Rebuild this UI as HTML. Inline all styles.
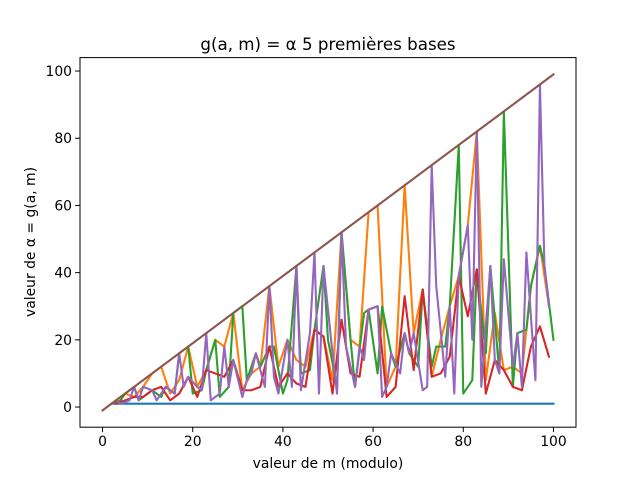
<!DOCTYPE html>
<html><head><meta charset="utf-8"><style>
body{margin:0;background:#fff}
svg{display:block;font-family:"DejaVu Sans","Liberation Sans",sans-serif}
</style></head><body>
<svg id="chart" width="640" height="480" viewBox="0 0 640 480" xmlns="http://www.w3.org/2000/svg">
<rect width="640" height="480" fill="#fff"/>
<text x="328" y="50" font-size="16.7" text-anchor="middle">g(a, m) = α 5 premières bases</text>
<text x="328" y="468" font-size="13.9" text-anchor="middle">valeur de m (modulo)</text>
<text transform="translate(35,242) rotate(-90)" font-size="13.9" text-anchor="middle">valeur de α = g(a, m)</text>
<g id="plot"></g>
</svg>
<script>
const xTicks=[0,20,40,60,80,100];
const yTicks=[0,20,40,60,80,100];
const base1M=[2,3,4,5,6,7,8,9,10,11,12,13,14,15,16,17,18,19,20,21,22,23,24,25,26,27,28,29,30,31,32,33,34,35,36,37,38,39,40,41,42,43,44,45,46,47,48,49,50,51,52,53,54,55,56,57,58,59,60,61,62,63,64,65,66,67,68,69,70,71,72,73,74,75,76,77,78,79,80,81,82,83,84,85,86,87,88,89,90,91,92,93,94,95,96,97,98,99,100];
const base1V=[1,1,1,1,1,1,1,1,1,1,1,1,1,1,1,1,1,1,1,1,1,1,1,1,1,1,1,1,1,1,1,1,1,1,1,1,1,1,1,1,1,1,1,1,1,1,1,1,1,1,1,1,1,1,1,1,1,1,1,1,1,1,1,1,1,1,1,1,1,1,1,1,1,1,1,1,1,1,1,1,1,1,1,1,1,1,1,1,1,1,1,1,1,1,1,1,1,1,1];
const base2M=[3,5,7,9,11,13,15,17,19,21,23,25,27,29,31,33,35,37,39,41,43,45,47,49,51,53,55,57,59,61,63,65,67,69,71,73,75,77,79,81,83,85,87,89,91,93,95,97,99];
const base2V=[2,4,3,6,10,12,4,8,18,6,11,20,18,28,5,10,12,36,12,20,14,12,23,21,8,52,20,18,58,60,6,12,66,22,35,9,20,30,39,54,82,8,28,11,12,10,36,48,30];
const base3M=[2,4,5,7,8,10,11,13,14,16,17,19,20,22,23,25,26,28,29,31,32,34,35,37,38,40,41,43,44,46,47,49,50,52,53,55,56,58,59,61,62,64,65,67,68,70,71,73,74,76,77,79,80,82,83,85,86,88,89,91,92,94,95,97,98,100];
const base3V=[1,2,4,6,2,4,5,3,6,4,16,18,4,5,11,20,3,6,28,30,8,16,12,18,18,4,8,42,10,11,23,42,20,6,52,20,6,28,29,10,30,16,12,22,16,12,35,12,18,18,30,78,4,8,41,16,42,10,88,6,22,23,36,48,42,20];
const base4M=[3,5,7,9,11,13,15,17,19,21,23,25,27,29,31,33,35,37,39,41,43,45,47,49,51,53,55,57,59,61,63,65,67,69,71,73,75,77,79,81,83,85,87,89,91,93,95,97,99];
const base4V=[1,2,3,3,5,6,2,4,9,3,11,10,9,14,5,5,6,18,6,10,7,6,23,21,4,26,10,9,29,30,3,6,33,11,35,9,10,15,39,27,41,4,14,11,6,5,18,24,15];
const base5M=[2,3,4,6,7,8,9,11,12,13,14,16,17,18,19,21,22,23,24,26,27,28,29,31,32,33,34,36,37,38,39,41,42,43,44,46,47,48,49,51,52,53,54,56,57,58,59,61,62,63,64,66,67,68,69,71,72,73,74,76,77,78,79,81,82,83,84,86,87,88,89,91,92,93,94,96,97,98,99];
const base5V=[1,2,1,2,6,2,6,5,2,4,6,4,16,6,9,6,5,22,2,4,18,6,14,3,8,10,16,6,36,9,4,20,6,42,5,22,46,4,42,16,4,52,18,6,18,14,29,30,3,6,16,10,22,16,22,5,6,72,36,9,30,4,39,54,20,82,6,42,14,10,44,12,22,6,46,8,96,42,30];
const boundM=[0,100];
const boundV=[-1,99];

const L=80,R=576,T=57.6,B=427.2,xmin=-5,xmax=105,ymin=-6,ymax=104;
const sx=v=>L+(v-xmin)/(xmax-xmin)*(R-L);
const sy=v=>B-(v-ymin)/(ymax-ymin)*(B-T);
const NS="http://www.w3.org/2000/svg";
const g=document.getElementById('plot');
function mk(tag,attrs,parent){const e=document.createElementNS(NS,tag);for(const k in attrs)e.setAttribute(k,attrs[k]);(parent||g).appendChild(e);return e;}
const series=[[base1M,base1V,'#1f77b4','series-base-1'],[base2M,base2V,'#ff7f0e','series-base-2'],[base3M,base3V,'#2ca02c','series-base-3'],[base4M,base4V,'#d62728','series-base-4'],[base5M,base5V,'#9467bd','series-base-5'],[boundM,boundV,'#8c564b','series-bound-m-minus-1']];
series.forEach(s=>{
  const pts=s[0].map((m,i)=>sx(m).toFixed(2)+','+sy(s[1][i]).toFixed(2)).join(' ');
  const p=mk('polyline',{points:pts,fill:'none',stroke:s[2],'stroke-width':2.1,'stroke-linejoin':'round','stroke-linecap':'square'});
  
  
});
const frame=mk('rect',{x:L,y:T,width:R-L,height:B-T,fill:'none',stroke:'#000','stroke-width':1});


xTicks.forEach(t=>{
  const x=sx(t);
  const tk=mk('line',{x1:x,x2:x,y1:B,y2:B+4.9,stroke:'#000','stroke-width':1});
  
  
  const lb=mk('text',{x:x,y:B+19,'font-size':13.9,'text-anchor':'middle'});
  lb.textContent=t;
  
  
});
yTicks.forEach(t=>{
  const y=sy(t);
  const tk=mk('line',{x1:L-4.9,x2:L,y1:y,y2:y,stroke:'#000','stroke-width':1});
  
  
  const lb=mk('text',{x:L-8,y:y+5,'font-size':13.9,'text-anchor':'end'});
  lb.textContent=t;
  
  
});
</script>
</body></html>
